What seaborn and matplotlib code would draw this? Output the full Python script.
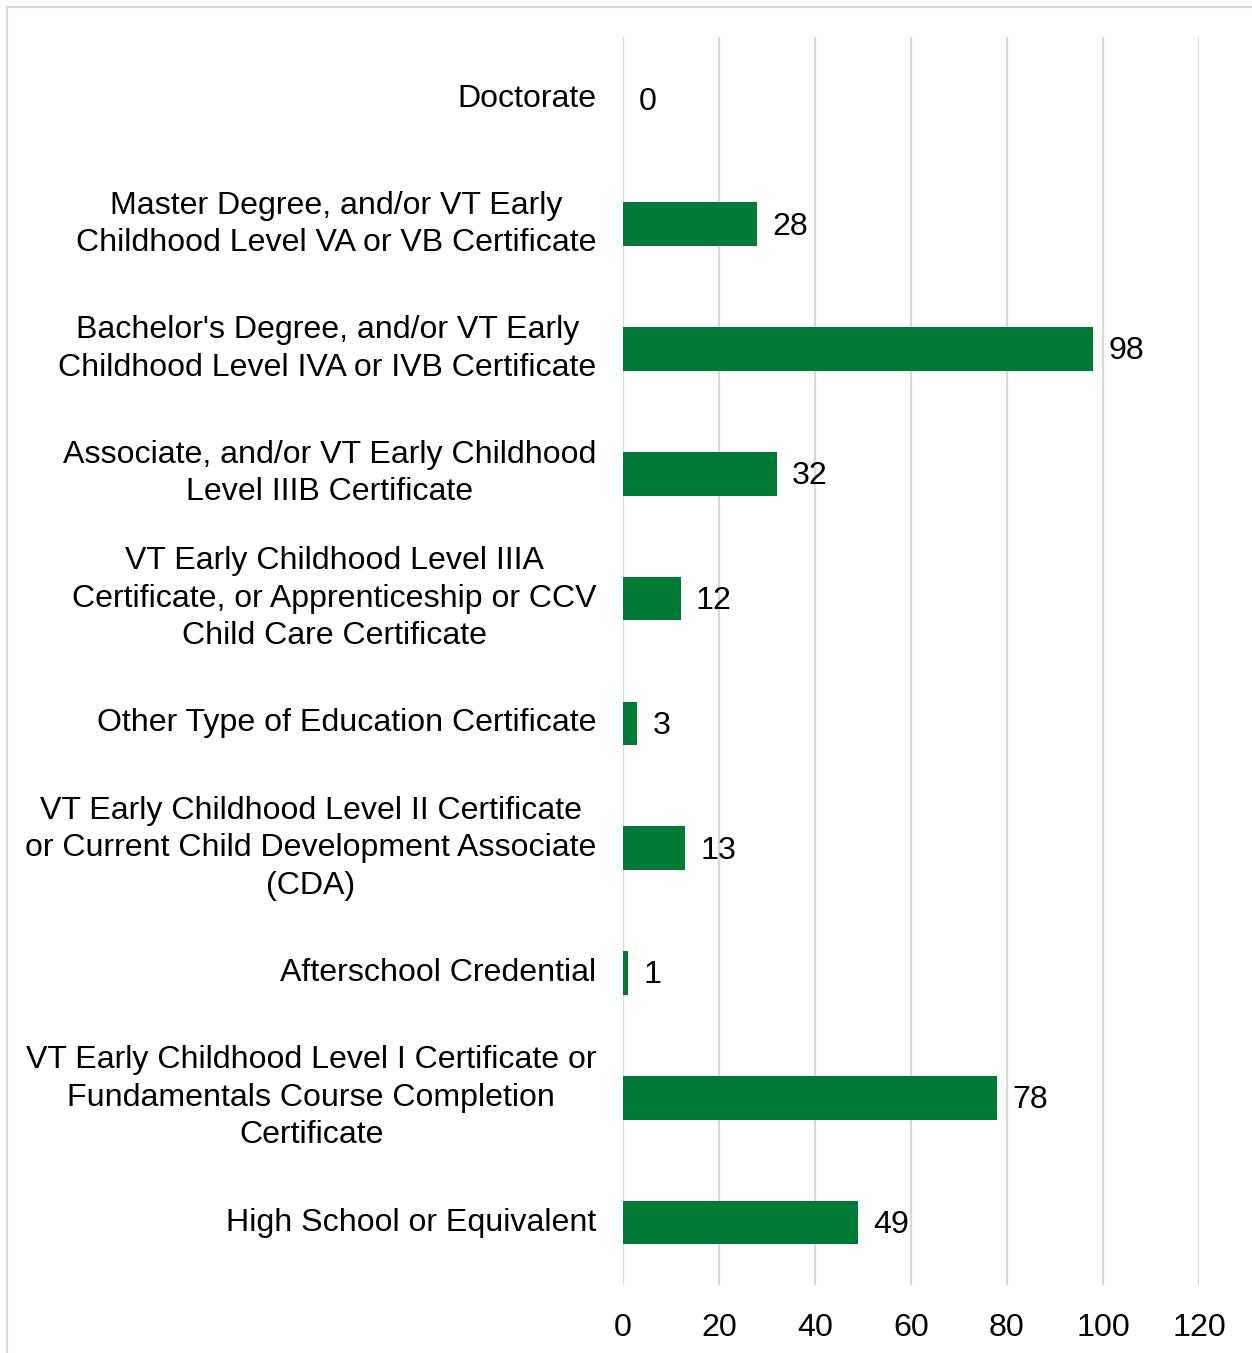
import matplotlib
matplotlib.use("Agg")
import matplotlib.pyplot as plt
import seaborn as sns
import pandas as pd
from matplotlib.patches import Rectangle

categories = [
    "Doctorate",
    "Master Degree, and/or VT Early\nChildhood Level VA or VB Certificate",
    "Bachelor's Degree, and/or VT Early\nChildhood Level IVA or IVB Certificate",
    "Associate, and/or VT Early Childhood\nLevel IIIB Certificate",
    "VT Early Childhood Level IIIA\nCertificate, or Apprenticeship or CCV\nChild Care Certificate",
    "Other Type of Education Certificate",
    "VT Early Childhood Level II Certificate\nor Current Child Development Associate\n(CDA)",
    "Afterschool Credential",
    "VT Early Childhood Level I Certificate or\nFundamentals Course Completion\nCertificate",
    "High School or Equivalent",
]
counts = [0, 28, 98, 32, 12, 3, 13, 1, 78, 49]
x_ticks = [0, 20, 40, 60, 80, 100, 120]

df = pd.DataFrame({"category": categories, "count": counts})

sns.set_theme(style="white")
plt.rcParams["font.family"] = ["Liberation Sans", "DejaVu Sans"]

FS = 23.1
W, H = 1252, 1353
fig = plt.figure(figsize=(W / 100, H / 100), dpi=100)
ax = fig.add_axes([623 / W, 1 - 1285 / H, (1199 - 623) / W, (1285 - 37) / H])

sns.barplot(data=df, x="count", y="category", color="#007A37", saturation=1,
            width=0.35, orient="h", ax=ax, zorder=3, linewidth=0)

ax.set_xlim(0, 120)
ax.set_ylim(len(categories) - 0.5, -0.5)
ax.set_xticks(x_ticks)
ax.set_xticklabels([str(t) for t in x_ticks], fontsize=FS, color="black")
ax.tick_params(axis="x", length=0, pad=20)
ax.tick_params(axis="y", length=0, pad=19)
ax.set_yticklabels(categories, fontsize=FS, color="black", linespacing=1.32)
for lbl in ax.get_yticklabels():
    lbl.set_horizontalalignment("right")
    lbl.set_verticalalignment("center")
    lbl.set_multialignment("center")
ax.xaxis.grid(True, color="#D9D9D9", linewidth=1.6, zorder=0)
ax.yaxis.grid(False)
for s in ax.spines.values():
    s.set_visible(False)
ax.set_xlabel("")
ax.set_ylabel("")

for i, v in enumerate(counts):
    ax.text(v + 3.2, i + 0.02, str(v), va="center", ha="left", fontsize=FS, color="black")

# outer frame
fig.patches.append(Rectangle((7 / W, -0.05), 1.1, 1 - 7 / H + 0.05,
                             transform=fig.transFigure, fill=False,
                             edgecolor="#D9D9D9", linewidth=1.5))

fig.savefig("out.png", dpi=100)
